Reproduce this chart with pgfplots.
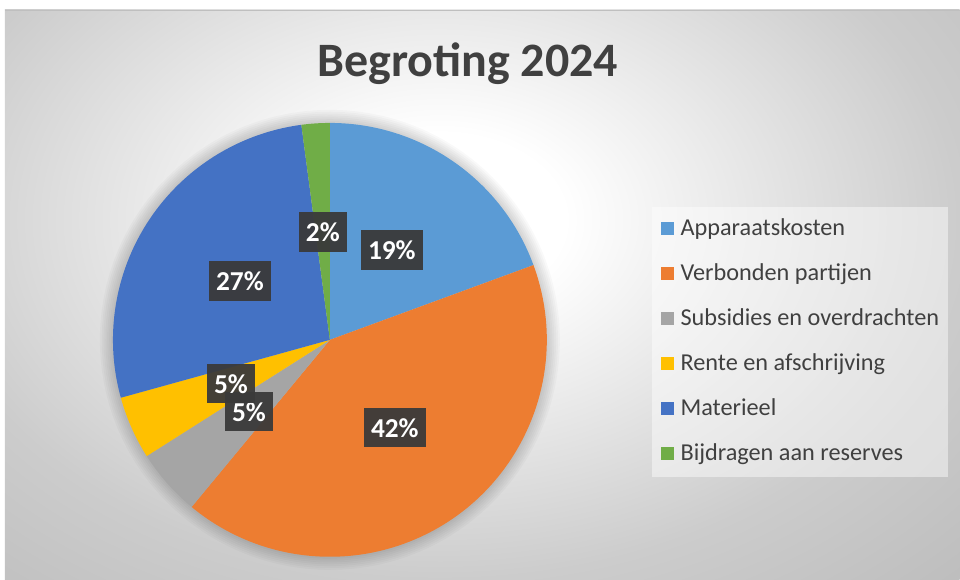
\documentclass[border=0pt]{standalone}
\usepackage{pgfplots}
\pgfplotsset{compat=1.18}
\usepackage{pgfplotstable}
\usepackage{fontspec}
\setmainfont{Carlito}
\definecolor{pie0}{HTML}{5B9BD5}
\definecolor{pie1}{HTML}{ED7D31}
\definecolor{pie2}{HTML}{A5A5A5}
\definecolor{pie3}{HTML}{FFC000}
\definecolor{pie4}{HTML}{4472C4}
\definecolor{pie5}{HTML}{70AD47}
\definecolor{txt}{HTML}{404040}
\definecolor{lblbox}{HTML}{3A3A3A}
\pgfdeclareradialshading{bgshade}{\pgfpointorigin}{color(0bp)=(white); color(6bp)=(white); color(25bp)=(black!20); color(36bp)=(black!26); color(50bp)=(black!26)}

% share (%), shown label, label centre (px, y from bottom)
\pgfplotstableread{
pct  lbl lx  ly
19.4 19  392 330
41.6 42  395 152
5.0  5   249 168
4.7  5   231 196
27.2 27  240 299
2.1  2   323 348
}\pietable

\begin{document}
\begin{tikzpicture}
\begin{axis}[
  width=720pt, height=435pt, scale only axis,
  xmin=0, xmax=960, ymin=0, ymax=580,
  hide axis, clip=false, enlargelimits=false,
  legend style={at={(0.6792,0.6431)}, anchor=north west, draw=none,
    fill=white, fill opacity=0.45, text opacity=1,
    inner xsep=7pt, inner ysep=8.5pt,
    font=\fontsize{18.2}{21}\selectfont, text=txt,
    row sep=16.75pt, column sep=5pt,
    nodes={inner sep=0pt, text height=13pt, text depth=4pt, anchor=base west}},
  legend cell align=left,
  legend image code/.code={\fill[#1, fill opacity=1] (0pt,1.3pt) rectangle (9pt,10.3pt);},
]
% background
\fill[white] (axis cs:0,0) rectangle (axis cs:960,580);
\begin{scope}
\clip (axis cs:5,0) rectangle (axis cs:960,570);
\shade[shading=bgshade] (axis cs:-80,0) rectangle (axis cs:960,720);
\end{scope}
\draw[black!25, line width=0.6pt] (axis cs:5,570) -- (axis cs:960,570);
% soft shadow round the pie
\pgfplotsinvokeforeach{1,...,7}{
  \fill[black, opacity=0.025] (axis cs:330,240) circle[radius={162.75pt+1.4pt*#1}];
}
% slices
\def\cum{0}
\pgfplotsforeachungrouped \i in {0,...,5}{
  \pgfplotstablegetelem{\i}{pct}\of\pietable
  \let\v\pgfplotsretval
  \pgfmathsetmacro\a{90-3.6*\cum}
  \pgfmathsetmacro\b{90-3.6*(\cum+\v)}
  \edef\temp{\noexpand\fill[pie\i] (axis cs:330,240) -- ++(\a:162.75pt) arc[start angle=\a, end angle=\b, radius=162.75pt] -- cycle;}
  \temp
  \pgfmathsetmacro\cum{\cum+\v}
}
% data labels
\pgfplotsforeachungrouped \i in {0,...,5}{
  \pgfplotstablegetelem{\i}{lbl}\of\pietable \let\l\pgfplotsretval
  \pgfplotstablegetelem{\i}{lx}\of\pietable \let\x\pgfplotsretval
  \pgfplotstablegetelem{\i}{ly}\of\pietable \let\y\pgfplotsretval
  \edef\temp{\noexpand\node[fill=lblbox, fill opacity=0.95, text opacity=1, text=white,
    font=\noexpand\fontsize{20.5}{23}\noexpand\bfseries\noexpand\selectfont,
    inner xsep=5.5pt, minimum height=29.5pt] at (axis cs:\x,\y) {\l\noexpand\%};}
  \temp
}
% title
\node[anchor=base, text=txt, font=\fontsize{36}{40}\bfseries\selectfont] at (axis cs:468,503) {Begroting 2024};
% legend
\addlegendimage{pie0}\addlegendentry{Apparaatskosten}
\addlegendimage{pie1}\addlegendentry{Verbonden partijen}
\addlegendimage{pie2}\addlegendentry{Subsidies en overdrachten}
\addlegendimage{pie3}\addlegendentry{Rente en afschrijving}
\addlegendimage{pie4}\addlegendentry{Materieel}
\addlegendimage{pie5}\addlegendentry{Bijdragen aan reserves}
\end{axis}
\end{tikzpicture}
\end{document}
